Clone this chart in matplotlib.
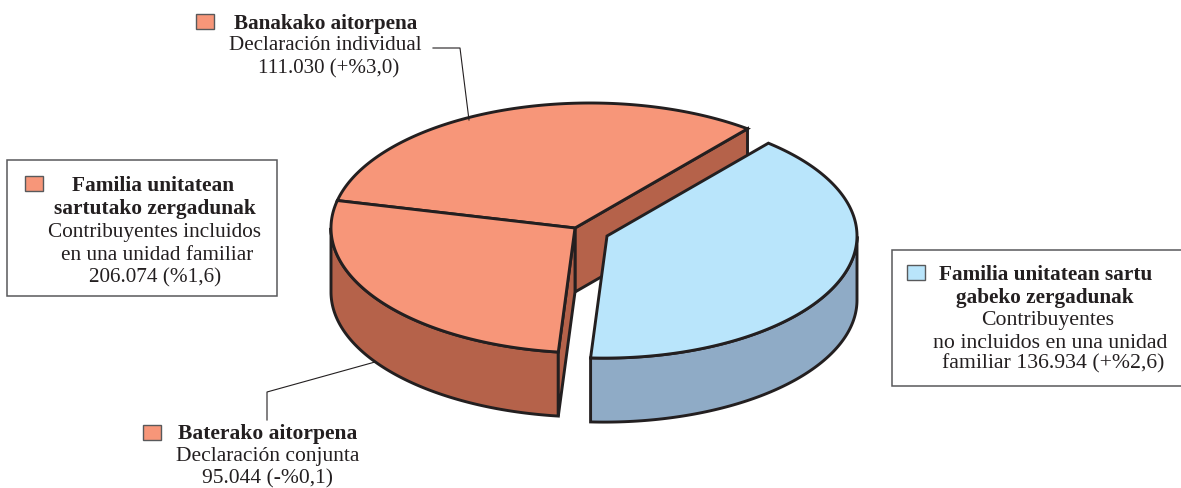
import matplotlib
matplotlib.use('Agg')
import matplotlib.pyplot as plt
from matplotlib.patches import Polygon, Rectangle
import numpy as np

plt.rcParams['font.family'] = ['Liberation Serif', 'DejaVu Serif']

# slices, counter clockwise from the back right
values = [111030, 95044, 136934]
top_colors = ['#F79679', '#F79679', '#B9E5FB']
wall_colors = ['#B5624A', '#B5624A', '#8FABC6']
edge = '#231F20'

banakako = ['Banakako aitorpena', 'Declaración individual', '111.030 (+%3,0)']
baterako = ['Baterako aitorpena', 'Declaración conjunta', '95.044 (-%0,1)']
familia_in = ['Familia unitatean', 'sartutako zergadunak', 'Contribuyentes incluidos',
              'en una unidad familiar', '206.074 (%1,6)']
familia_out = ['Familia unitatean sartu', 'gabeko zergadunak', 'Contribuyentes',
               'no incluidos en una unidad', 'familiar 136.934 (+%2,6)']

W, H = 1181, 488
k = 2.072  # squash of the disc
depth = 64 * k
start = 50.0

fig = plt.figure(figsize=(W / 100, H / 100), dpi=100)
ax = fig.add_axes([0, 0, 1, 1])
ax.set_xlim(0, W)
ax.set_ylim(0, H * k)
ax.set_axis_off()

angles = start + 360 * np.cumsum([0] + values) / np.sum(values)


def rim(apex, off, R, t1, t2):
    # disc outline seen from the apex, which sits a little off the disc centre
    t = np.radians(np.linspace(t1, t2, 150))
    s = off * np.cos(t) + np.sqrt(R ** 2 - (off * np.sin(t)) ** 2)
    return np.column_stack([apex[0] + s * np.cos(t), apex[1] + s * np.sin(t)])


def wall(pts, color, z):
    low = pts[::-1] - [0, depth]
    ax.add_patch(Polygon(np.vstack([pts, low]), closed=True, facecolor=color,
                         edgecolor=edge, linewidth=2.1, zorder=z))


def top(apex, pts, color, z):
    ax.add_patch(Polygon(np.vstack([apex, pts]), closed=True, facecolor=color,
                         edgecolor=edge, linewidth=2.1, zorder=z))


apex_o = np.array([575, (H - 228) * k])
apex_b = np.array([607, (H - 236) * k])

rim0 = rim(apex_o, 15, 259, angles[0], angles[1])
rim1 = rim(apex_o, 15, 259, angles[1], angles[2])
rim2 = rim(apex_b, -3, 253, angles[2], angles[3])

# cut faces and outer walls, back to front
wall(np.vstack([apex_o, rim0[0]]), wall_colors[0], 1)
wall(rim1[np.argmin(rim1[:, 0]):], wall_colors[1], 2)
wall(np.vstack([apex_o, rim1[-1]]), wall_colors[1], 3)
wall(rim2[:np.argmax(rim2[:, 0]) + 1], wall_colors[2], 3)

top(apex_o, rim0, top_colors[0], 5)
top(apex_o, rim1, top_colors[1], 5)
top(apex_b, rim2, top_colors[2], 6)

# annotation layer in pixels
an = fig.add_axes([0, 0, 1, 1])
an.set_xlim(0, W)
an.set_ylim(H, 0)
an.set_axis_off()
an.patch.set_alpha(0)


def block(lines, xs, ys, nbold, bold_size, size):
    for i, (s, x, y) in enumerate(zip(lines, xs, ys)):
        an.text(x, y, s, ha='center', va='center', color=edge,
                fontsize=bold_size if i < nbold else size,
                fontweight='bold' if i < nbold else 'normal', zorder=10)


def swatch(x, y, color):
    an.add_patch(Rectangle((x, y), 18, 15, facecolor=color, edgecolor='#58595B',
                           linewidth=1.0, zorder=10))


an.add_patch(Rectangle((7, 160), 270, 136, facecolor='white', edgecolor='#58595B', linewidth=1.1))
an.add_patch(Rectangle((892, 250), 300, 136, facecolor='white', edgecolor='#58595B', linewidth=1.1))

block(banakako, [326, 325, 329], [24, 46, 69], 1, 15.2, 15.1)
block(familia_in, [153, 155, 155, 157, 155], [186, 209, 232, 255, 278], 2, 15.4, 15.3)
block(familia_out, [1046, 1045, 1048, 1050, 1053], [275, 298, 320, 343, 364], 2, 15.3, 15.7)
block(baterako, [268, 268, 268], [434, 457, 479], 1, 15.5, 15.5)

swatch(196, 14, top_colors[0])
swatch(25, 176, top_colors[1])
swatch(907, 265, top_colors[2])
swatch(143, 425, top_colors[1])

an.plot([433, 460, 469], [48, 48, 120], color=edge, lw=0.8, zorder=9)
an.plot([375, 267, 267], [362, 392, 420], color=edge, lw=0.8, zorder=9)

fig.savefig('out.png', dpi=100)
